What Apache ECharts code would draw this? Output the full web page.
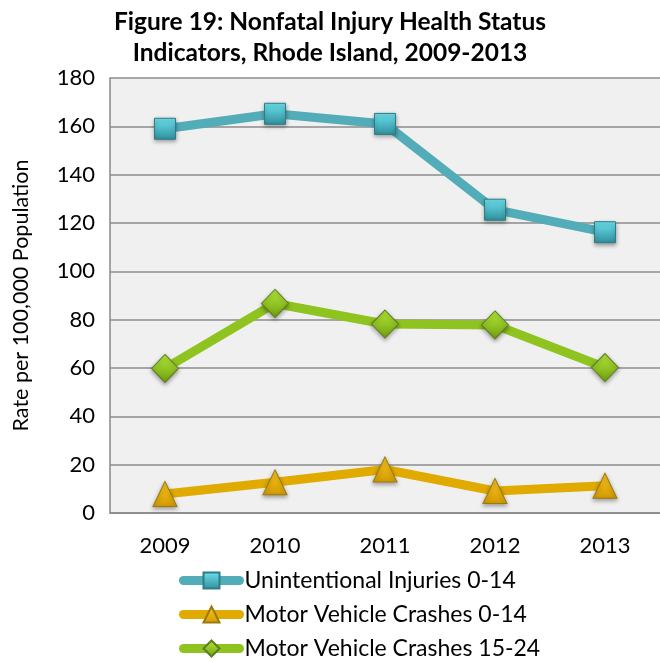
<!DOCTYPE html>
<html>
<head>
<meta charset="utf-8">
<script src="https://cdn.jsdelivr.net/npm/echarts@6/dist/echarts.min.js"></script>
<style>
  html, body { margin: 0; padding: 0; background: #fff; }
  #chart { width: 660px; height: 662px; }
</style>
</head>
<body>
<div id="chart"></div>
<script>
// 数据
var years = ['2009', '2010', '2011', '2012', '2013'];
var unintentional014 = [159.0, 165.2, 161.0, 125.5, 116.2];
var motorVehicle014 = [7.9, 12.7, 18.0, 9.1, 11.3];
var motorVehicle1524 = [59.8, 86.7, 78.2, 77.8, 60.2];
var yTicks = { min: 0, max: 180, interval: 20 };

var font = 'Lato, "Open Sans", sans-serif';

function grad(top, bottom) {
    return new echarts.graphic.LinearGradient(0, 0, 0, 1, [
        { offset: 0, color: top },
        { offset: 1, color: bottom }
    ]);
}

var chart = echarts.init(document.getElementById('chart'));
var option = {
    animation: false,
    title: {
        text: 'Figure 19: Nonfatal Injury Health Status\nIndicators, Rhode Island, 2009-2013',
        left: 'center',
        top: 2,
        textStyle: {
            fontFamily: font,
            fontWeight: 'bold',
            fontSize: 24.5,
            lineHeight: 31,
            color: '#000'
        }
    },
    grid: {
        left: 110,
        right: -6,
        top: 78,
        bottom: 149,
        show: true,
        backgroundColor: '#f0f0f0',
        borderWidth: 0
    },
    legend: {
        orient: 'vertical',
        left: 179,
        top: 569,
        width: 470,
        height: 120,
        padding: 0,
        itemWidth: 56,
        itemHeight: 20,
        itemGap: 11,
        lineStyle: { width: 9, cap: 'round' },
        textStyle: { fontFamily: font, fontSize: 23, lineHeight: 20, color: '#000' },
        data: ['Unintentional Injuries 0-14', 'Motor Vehicle Crashes 0-14', 'Motor Vehicle Crashes 15-24']
    },
    xAxis: {
        type: 'category',
        data: years,
        boundaryGap: true,
        axisLine: { lineStyle: { color: '#888', width: 1.5 } },
        axisTick: { show: false },
        axisLabel: { fontFamily: font, fontSize: 22, color: '#000', margin: 22 }
    },
    yAxis: {
        type: 'value',
        min: yTicks.min,
        max: yTicks.max,
        interval: yTicks.interval,
        name: 'Rate per 100,000 Population',
        nameLocation: 'middle',
        nameGap: 78,
        nameTextStyle: { fontFamily: font, fontSize: 21.5, color: '#000' },
        axisLine: { show: true, lineStyle: { color: '#888', width: 1.5 } },
        axisTick: { show: false },
        axisLabel: { fontFamily: font, fontSize: 22, color: '#000', margin: 15 },
        splitLine: { lineStyle: { color: '#8c8c8c', width: 1.5 } }
    },
    series: [
        {
            name: 'Unintentional Injuries 0-14',
            type: 'line',
            data: unintentional014,
            symbol: 'rect',
            symbolSize: 21,
            lineStyle: { color: '#52adb9', width: 9 },
            itemStyle: {
                color: grad('#6ee3f0', '#2f8e9b'),
                borderColor: '#2e7c86',
                borderWidth: 1,
                shadowColor: 'rgba(0,0,0,0.35)',
                shadowBlur: 4,
                shadowOffsetY: 2
            }
        },
        {
            name: 'Motor Vehicle Crashes 0-14',
            type: 'line',
            data: motorVehicle014,
            symbol: 'triangle',
            symbolSize: [24, 25],
            lineStyle: { color: '#e0aa00', width: 9 },
            itemStyle: {
                color: grad('#ffc822', '#d49a00'),
                borderColor: '#9a7a10',
                borderWidth: 1,
                shadowColor: 'rgba(0,0,0,0.35)',
                shadowBlur: 4,
                shadowOffsetY: 2
            }
        },
        {
            name: 'Motor Vehicle Crashes 15-24',
            type: 'line',
            data: motorVehicle1524,
            symbol: 'diamond',
            symbolSize: [27, 28],
            lineStyle: { color: '#8fc31f', width: 9 },
            itemStyle: {
                color: grad('#b6ec3a', '#6f9e10'),
                borderColor: '#5e7e20',
                borderWidth: 1,
                shadowColor: 'rgba(0,0,0,0.35)',
                shadowBlur: 4,
                shadowOffsetY: 2
            }
        }
    ]
};
chart.setOption(option);
</script>
</body>
</html>
